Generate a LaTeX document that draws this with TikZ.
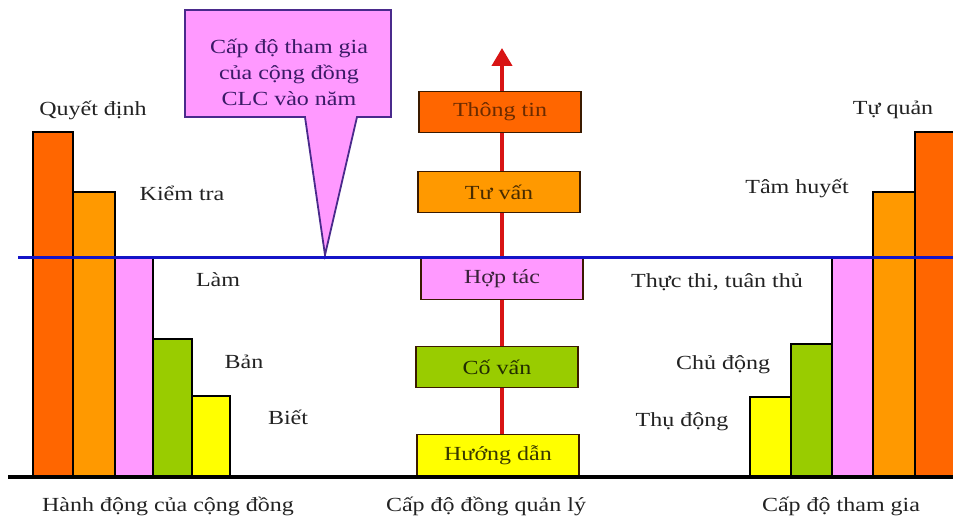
\documentclass[tikz,border=0pt]{standalone}
\usepackage{fontspec}
\setmainfont{Liberation Serif}[FakeStretch=1.2]
\usetikzlibrary{arrows.meta, positioning}

\definecolor{barRed}{HTML}{FF6600}
\definecolor{barOrange}{HTML}{FF9900}
\definecolor{barPink}{HTML}{FF99FF}
\definecolor{barGreen}{HTML}{99CC00}
\definecolor{barYellow}{HTML}{FFFF00}
\definecolor{lineBlue}{HTML}{1414C8}
\definecolor{arrowRed}{HTML}{D81414}
\definecolor{boxEdge}{HTML}{3A1A00}
\definecolor{calloutEdge}{HTML}{4A2A8C}
\definecolor{calloutText}{HTML}{3A1A66}
\definecolor{textDark}{HTML}{222222}

\tikzset{
  bar/.style={draw=black, line width=1.6pt},
  levelbox/.style={draw=boxEdge, line width=1.6pt, minimum width=162pt, minimum height=41pt},
  lbl/.style={text=textDark}
}

\begin{document}
\begin{tikzpicture}[x=1pt, y=-1pt, every node/.style={font=\fontsize{20}{26}\selectfont, inner sep=0pt}]
				\useasboundingbox (0,0) rectangle (953,519);

				% left bars
				\draw[bar, fill=barRed] (33,477) rectangle (73,132);
				\draw[bar, fill=barOrange] (73,477) rectangle (115,192);
				\draw[bar, fill=barPink] (115,477) rectangle (153,257);
				\draw[bar, fill=barGreen] (153,477) rectangle (192,339);
				\draw[bar, fill=barYellow] (192,477) rectangle (230,396);

				% right bars
				\draw[bar, fill=barYellow] (750,477) rectangle (791,397);
				\draw[bar, fill=barGreen] (791,477) rectangle (832,344);
				\draw[bar, fill=barPink] (832,477) rectangle (873,257);
				\draw[bar, fill=barOrange] (873,477) rectangle (915,192);
				\draw[bar, fill=barRed] (915,477) rectangle (958,132);

				\node[lbl] (quyetdinh) at (93,110) {Quyết định};
				\node[lbl] (kiemtra) at (182,193) {Kiểm tra};
				\node[lbl] (lam) at (218,280) {Làm};
				\node[lbl] (ban) at (244,362) {Bản};
				\node[lbl] (biet) at (288,417) {Biết};

				\node[lbl] (tuquan) at (893,110) {Tự quản};
				\node[lbl] (tamhuyet) at (797,188) {Tâm huyết};
				\node[lbl] (thucthi) at (717,282) {Thực thi, tuân thủ};
				\node[lbl] (chudong) at (723,365) {Chủ động};
				\node[lbl] (thudong) at (682,422) {Thụ động};

				% callout
				\draw[fill=barPink, draw=calloutEdge, line width=1.8pt]
				(185,10) -- (391,10) -- (391,117) -- (357,117) -- (325,255)
				-- (305,117) -- (185,117) -- cycle;
				\node[text=calloutText, align=center] (callout) at (289,72)
				{Cấp độ tham gia\\của cộng đồng\\CLC vào năm};

				% center scale
				\coordinate (tip) at (502,48);
				\node[levelbox, fill=barYellow, text=barYellow!22!black] (huongdan) at (498,455) {Hướng dẫn};
				\draw[arrowRed, line width=4pt, -{Triangle[width=20pt, length=18pt]}]
				(tip |- huongdan.north) -- (tip);
				\node[levelbox, fill=barGreen, text=barGreen!22!black] (covan) at (497,367) {Cố vấn};
				\node[levelbox, fill=barPink, text=barPink!22!black] (hoptac) at (502,279) {Hợp tác};
				\node[levelbox, fill=barOrange, text=barOrange!28!black] (tuvan) at (499,192) {Tư vấn};
				\node[levelbox, fill=barRed, text=barRed!42!black] (thongtin) at (500,112) {Thông tin};

				\draw[lineBlue, line width=3pt] (18,257) -- (953,257);
				\draw[black, line width=4pt] (8,477) -- (953,477);

				\node[lbl] (hanhdong) at (168,506) {Hành động của cộng đồng};
				\node[lbl] (dongquanly) at (486,506) {Cấp độ đồng quản lý};
				\node[lbl] (thamgia) at (841,506) {Cấp độ tham gia};
			\end{tikzpicture}
\end{document}
